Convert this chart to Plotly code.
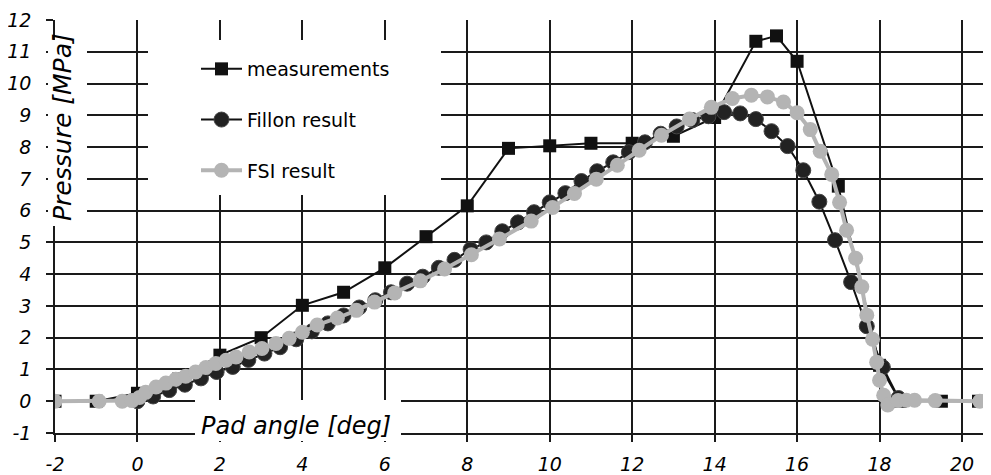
import plotly.graph_objects as go

# ---- data ----
meas_x = [-2, -1, 0, 1, 2, 3, 4, 5, 6, 7, 8, 9, 10, 11, 12, 13, 14, 15, 15.5, 16, 17, 18, 18.5, 19.5, 20.4]
meas_y = [0, 0, 0.25, 0.7, 1.45, 2.0, 3.02, 3.43, 4.2, 5.18, 6.15, 7.96, 8.04, 8.12, 8.12, 8.34, 8.93, 11.33, 11.5, 10.7, 6.77, 1.13, 0, 0, 0]

fillon_x = [0, 0.38, 0.77, 1.15, 1.54, 1.92, 2.31, 2.69, 3.08, 3.46, 3.85, 4.23, 4.62, 5.0, 5.38,
            5.77, 6.15, 6.54, 6.92, 7.31, 7.69, 8.08, 8.46, 8.85, 9.23, 9.62, 10.0, 10.38, 10.77,
            11.15, 11.54, 11.92, 12.31, 12.69, 13.08, 13.46, 13.85, 14.23, 14.62, 15.0, 15.38,
            15.77, 16.15, 16.54, 16.92, 17.31, 17.69, 18.08, 18.46]
fillon_y = [0.0, 0.15, 0.35, 0.52, 0.72, 0.92, 1.08, 1.3, 1.5, 1.7, 1.95, 2.2, 2.45, 2.7, 2.95,
            3.18, 3.43, 3.7, 3.92, 4.2, 4.45, 4.78, 5.0, 5.35, 5.63, 5.95, 6.26, 6.55, 6.93,
            7.24, 7.52, 7.84, 8.15, 8.42, 8.65, 8.85, 8.97, 9.1, 9.06, 8.88, 8.5,
            8.03, 7.27, 6.28, 5.07, 3.75, 2.36, 1.07, 0.1]

fsi_x = [-2, -0.93, -0.37, -0.13, 0.05, 0.2, 0.45, 0.69, 0.93, 1.17, 1.41, 1.66, 1.9, 2.15, 2.39,
         2.71, 3.02, 3.36, 3.68, 4.0, 4.36, 4.85, 5.31, 5.75, 6.24, 6.86, 7.45, 8.1, 8.78, 9.55,
         10.07, 10.6, 11.13, 11.64, 12.17, 12.71, 13.39, 13.92, 14.43, 14.89, 15.28, 15.67,
         16.0, 16.32, 16.56, 16.84, 17.03, 17.2, 17.42, 17.57, 17.69, 17.83, 17.93, 18.0,
         18.1, 18.2, 18.45, 18.65, 18.85, 19.35, 20.43]
fsi_y = [0, 0, 0, 0.02, 0.12, 0.28, 0.45, 0.57, 0.69, 0.79, 0.92, 1.06, 1.19, 1.29, 1.39,
         1.55, 1.66, 1.82, 1.98, 2.17, 2.4, 2.62, 2.86, 3.12, 3.41, 3.79, 4.16, 4.61, 5.11, 5.67,
         6.1, 6.54, 6.99, 7.43, 7.9, 8.37, 8.88, 9.25, 9.53, 9.63, 9.58, 9.42,
         9.08, 8.55, 7.87, 7.14, 6.26, 5.38, 4.5, 3.6, 2.71, 1.95, 1.23, 0.66,
         0.19, -0.12, 0.02, 0.03, 0.03, 0.02, 0]

x_ticks = [-2, 0, 2, 4, 6, 8, 10, 12, 14, 16, 18, 20]
x_tick_text = ["-2", "0", "2", "4", "6", "8", "10", "12", "14", "16", "18", "20"]
y_ticks = [-1, 0, 1, 2, 3, 4, 5, 6, 7, 8, 9, 10, 11, 12]
y_tick_text = ["-1", "0", "1", "2", "3", "4", "5", "6", "7", "8", "9", "10", "11", "12"]

series_names = ["measurements", "Fillon result", "FSI result"]

FONT = "DejaVu Sans"

fig = go.Figure()
fig.add_trace(go.Scatter(
    x=meas_x, y=meas_y, name=series_names[0], mode="lines+markers", legendgroup="a",
    line=dict(color="#111111", width=2),
    marker=dict(symbol="square", size=13, color="#111111", line=dict(width=0))))
fig.add_trace(go.Scatter(
    x=fillon_x, y=fillon_y, name=series_names[1], mode="lines+markers", legendgroup="b",
    line=dict(color="#111111", width=2),
    marker=dict(symbol="circle", size=15, color="#222222", line=dict(color="#444444", width=1))))
fig.add_trace(go.Scatter(
    x=fsi_x, y=fsi_y, name=series_names[2], mode="lines+markers", legendgroup="c",
    line=dict(color="#b4b4b4", width=4),
    marker=dict(symbol="circle", size=15, color="#b4b4b4", line=dict(width=0))))

# the page body has an 8px default margin: size the figure to fit the window
OFF = 8
W, H = 991 - OFF, 475 - OFF
ML, MR, MT = 55 - OFF, 0, 20 - OFF
MB = H - (433 - OFF)
PW, PH = W - ML - MR, H - MT - MB


def px_x(p):
    # screenshot pixel -> paper coordinate
    return (p - OFF - ML) / PW


def px_y(p):
    return (H - MB - (p - OFF)) / PH


def white_box(x0, y0, x1, y1):
    return dict(type="rect", xref="paper", yref="paper",
                x0=px_x(x0), x1=px_x(x1), y0=px_y(y1), y1=px_y(y0),
                fillcolor="white", line=dict(width=0), layer="above")


shapes = [
    white_box(48, 40, 87, 226),     # behind y title
    white_box(148, 40, 441, 195),   # behind legend
    white_box(195, 400, 401, 441),  # behind x title
]

annotations = [
    dict(text="Pressure [MPa]", xref="paper", yref="paper", x=px_x(62), y=px_y(127),
         xanchor="center", yanchor="middle", textangle=-90, showarrow=False,
         font=dict(family=FONT, size=25, color="black", style="italic")),
    dict(text="Pad angle [deg]", xref="paper", yref="paper", x=px_x(296), y=px_y(426),
         xanchor="center", yanchor="middle", showarrow=False,
         font=dict(family=FONT, size=24, color="black", style="italic")),
]

x_scale = 907 / 22.0
fig.update_layout(
    width=W, height=H,
    margin=dict(l=ML, r=MR, t=MT, b=MB, pad=0, autoexpand=False),
    paper_bgcolor="white", plot_bgcolor="white",
    font=dict(family=FONT, size=19, color="black"),
    showlegend=True,
    legend=dict(x=px_x(196), y=px_y(50), xanchor="left", yanchor="top",
                bgcolor="rgba(0,0,0,0)", borderwidth=0,
                font=dict(family=FONT, size=19, color="black"),
                traceorder="grouped", tracegroupgap=23, itemwidth=41),
    shapes=shapes,
    annotations=annotations,
    xaxis=dict(range=[-2, -2 + PW / x_scale], tickvals=x_ticks, ticktext=x_tick_text,
               automargin=False,
               showgrid=True, gridcolor="#1a1a1a", gridwidth=1.5, zeroline=False,
               showline=True, linecolor="#1a1a1a", linewidth=1.5,
               ticks="outside", ticklen=7, tickwidth=1.5, tickcolor="#1a1a1a",
               ticklabelstandoff=6,
               tickfont=dict(family=FONT, size=19, color="black", style="italic")),
    yaxis=dict(range=[-1, 12], tickvals=y_ticks, ticktext=y_tick_text,
               automargin=False,
               showgrid=True, gridcolor="#1a1a1a", gridwidth=1.5, zeroline=False,
               showline=True, linecolor="#1a1a1a", linewidth=1.5,
               ticks="outside", ticklen=7, tickwidth=1.5, tickcolor="#1a1a1a",
               ticklabelstandoff=11,
               tickfont=dict(family=FONT, size=19, color="black", style="italic")),
)

fig.write_html("out.html")
